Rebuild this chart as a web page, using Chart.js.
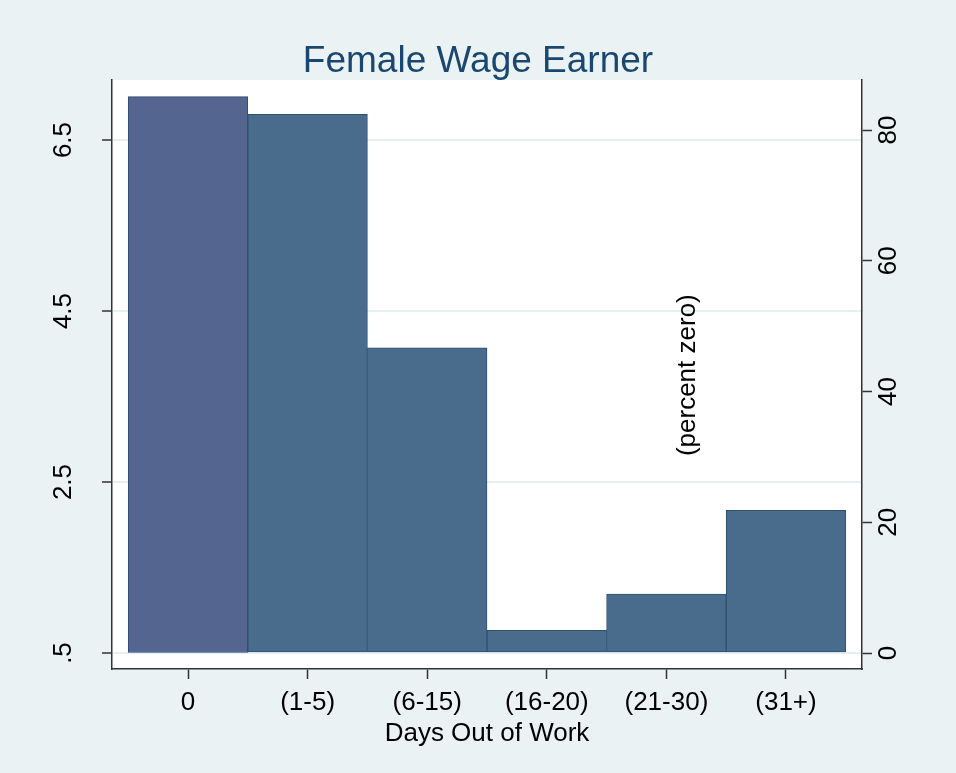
<!DOCTYPE html>
<html lang="en">
  <head>
    <meta charset="UTF-8" />
    <title>Female Wage Earner</title>
    <script src="https://cdn.jsdelivr.net/npm/chart.js"></script>
    <style>
      html, body { margin: 0; padding: 0; background: #eaf2f3; }
      canvas { display: block; }
    </style>
  </head>
  <body>
    <canvas id="chart" width="956" height="773"></canvas>
    <script>
      // categories on the x axis
      const categories = ["0", "(1-5)", "(6-15)", "(16-20)", "(21-30)", "(31+)"];
      // first bar: percent zero (right axis)
      const percentZero = [85.1];
      // other bars: mean days (left axis)
      const meanDays = [null, 6.8, 4.07, 0.765, 1.19, 2.17];
      const leftTicks = [0.5, 2.5, 4.5, 6.5];
      const leftTickLabels = [".5", "2.5", "4.5", "6.5"];
      const rightTicks = [0, 20, 40, 60, 80];
      const noteText = "(percent zero)";

      const FONT = "'Liberation Sans', Arial, sans-serif";

      const plotBg = {
        id: "plotBg",
        beforeDraw(chart) {
          const { ctx, chartArea: a } = chart;
          ctx.save();
          ctx.fillStyle = "#ffffff";
          ctx.fillRect(a.left, a.top, a.right - a.left, a.bottom - a.top);
          ctx.restore();
        },
      };

      const note = {
        id: "note",
        afterDatasetsDraw(chart) {
          const ctx = chart.ctx;
          const x = chart.scales.x.getPixelForValue(4.18);
          const y = chart.scales.y2.getPixelForValue(42.5);
          ctx.save();
          ctx.translate(x, y);
          ctx.rotate(-Math.PI / 2);
          ctx.font = "26px " + FONT;
          ctx.fillStyle = "#000";
          ctx.textAlign = "center";
          ctx.textBaseline = "middle";
          ctx.fillText(noteText, 0, 0);
          ctx.restore();
        },
      };

      new Chart(document.getElementById("chart"), {
        type: "bar",
        data: {
          datasets: [
            {
              label: "percent zero",
              data: percentZero.map((v, i) => ({ x: i, y: v })),
              yAxisID: "y2",
              base: 0,
              grouped: false,
              backgroundColor: "#546690",
              borderColor: "#2e4a74",
              borderWidth: 1,
              borderSkipped: false,
              barPercentage: 1,
              categoryPercentage: 1,
            },
            {
              label: "days",
              data: meanDays.map((v, i) => ({ x: i, y: v })),
              yAxisID: "y",
              base: 0.5,
              grouped: false,
              backgroundColor: "#496c8d",
              borderColor: "#2d5073",
              borderWidth: 1,
              borderSkipped: false,
              barPercentage: 1,
              categoryPercentage: 1,
            },
          ],
        },
        options: {
          responsive: false,
          animation: false,
          layout: { padding: 0 },
          plugins: {
            legend: { display: false },
            tooltip: { enabled: false },
            title: {
              display: true,
              text: "Female Wage Earner",
              color: "#1a476f",
              font: { family: FONT, size: 37, weight: "normal", lineHeight: 1 },
              padding: { top: 43, bottom: 0 },
            },
          },
          scales: {
            x: {
              type: "linear",
              offset: false,
              min: -0.6355,
              max: 5.6355,
              afterBuildTicks: (s) => { s.ticks = categories.map((c, i) => ({ value: i })); },
              afterFit: (s) => { s.height = 104; },
              ticks: {
                callback: (v) => categories[v],
                color: "#000",
                font: { family: FONT, size: 26 },
                padding: 8,
                maxRotation: 0,
                autoSkip: false,
              },
              grid: { offset: false, drawOnChartArea: false, tickColor: "#333", tickLength: 10, tickWidth: 1.5 },
              border: { color: "#333", width: 1.5 },
              title: {
                display: true,
                text: "Days Out of Work",
                color: "#000",
                font: { family: FONT, size: 26 },
                padding: { top: 0, bottom: 24 },
              },
            },
            y: {
              position: "left",
              min: 0.313,
              max: 7.202,
              afterBuildTicks: (s) => { s.ticks = leftTicks.map((v) => ({ value: v })); },
              afterFit: (s) => { s.width = 112; },
              ticks: {
                callback: (v, i) => leftTickLabels[i],
                color: "#000",
                font: { family: FONT, size: 26 },
                minRotation: 90,
                maxRotation: 90,
                crossAlign: "center",
                padding: 20,
              },
              grid: { color: "#e6eff1", lineWidth: 2, tickColor: "#333", tickLength: 10, tickWidth: 1.5 },
              border: { color: "#333", width: 1.5 },
            },
            y2: {
              position: "right",
              min: -2.447,
              max: 87.65,
              afterBuildTicks: (s) => { s.ticks = rightTicks.map((v) => ({ value: v })); },
              afterFit: (s) => { s.width = 94; },
              ticks: {
                color: "#000",
                font: { family: FONT, size: 26 },
                minRotation: 90,
                maxRotation: 90,
                crossAlign: "center",
                padding: 2,
              },
              grid: { drawOnChartArea: false, tickColor: "#333", tickLength: 10, tickWidth: 1.5 },
              border: { color: "#333", width: 1.5 },
            },
          },
        },
        plugins: [plotBg, note],
      });
    </script>
  </body>
</html>
